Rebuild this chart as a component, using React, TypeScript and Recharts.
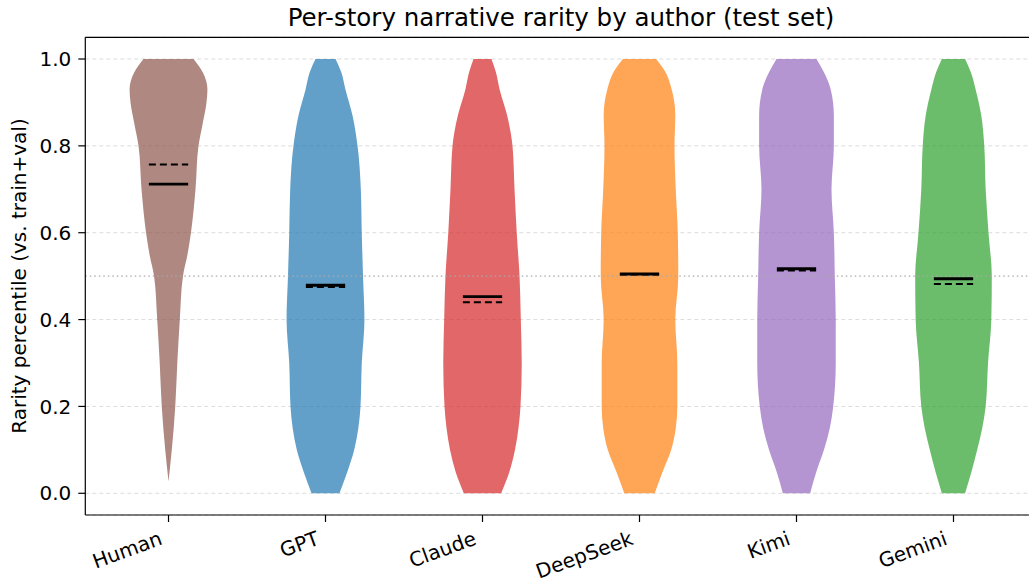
import { ComposedChart, Area, XAxis, YAxis, CartesianGrid, ReferenceLine } from 'recharts'

const AUTHORS = ['Human', 'GPT', 'Claude', 'DeepSeek', 'Kimi', 'Gemini']
const COLORS = ['#8c564b', '#1f77b4', '#d62728', '#ff7f0e', '#9467bd', '#2ca02c']

// KDE outline: rarity level -> half-width (x units)
const HUMAN_LEVELS = [0.027, 0.1, 0.2, 0.3, 0.4, 0.5, 0.55, 0.6, 0.7, 0.8, 0.85, 0.9, 0.93, 0.97, 1.0]
const HUMAN_HALF = [0, 0.021, 0.043, 0.056, 0.072, 0.092, 0.121, 0.143, 0.172, 0.191, 0.217, 0.242, 0.248, 0.217, 0.159]

const MODEL_LEVELS = [0, 0.05, 0.1, 0.15, 0.2, 0.3, 0.4, 0.5, 0.6, 0.7, 0.8, 0.87, 0.93, 0.97, 1.0]
const GPT_HALF = [0.089, 0.14, 0.183, 0.209, 0.223, 0.231, 0.248, 0.239, 0.231, 0.225, 0.204, 0.172, 0.127, 0.1, 0.064]
const CLAUDE_HALF = [0.119, 0.172, 0.207, 0.229, 0.242, 0.25, 0.244, 0.236, 0.218, 0.204, 0.191, 0.157, 0.109, 0.085, 0.057]
const DEEPSEEK_HALF = [0.097, 0.148, 0.202, 0.231, 0.241, 0.241, 0.228, 0.247, 0.244, 0.231, 0.223, 0.228, 0.205, 0.165, 0.106]
const KIMI_HALF = [0.087, 0.127, 0.175, 0.212, 0.234, 0.25, 0.25, 0.244, 0.238, 0.223, 0.238, 0.238, 0.218, 0.174, 0.127]
const GEMINI_HALF = [0.074, 0.115, 0.151, 0.183, 0.205, 0.22, 0.241, 0.244, 0.223, 0.205, 0.196, 0.177, 0.141, 0.11, 0.074]

const MEDIANS = [0.712, 0.479, 0.453, 0.505, 0.517, 0.494]
const MEANS = [0.757, 0.475, 0.44, 0.504, 0.513, 0.482]

const Y_TICKS = [0, 0.2, 0.4, 0.6, 0.8, 1.0]
const X_TICKS = [0, 1, 2, 3, 4, 5]
const Y_MIN = -0.05
const Y_MAX = 1.05
const BAR_HALF = 0.125

const FONT = '"DejaVu Sans", sans-serif'
const TICK_FONT = 20

const violin = (center: number, levels: number[], half: number[]) =>
  levels.map((y, i) => ({ y, range: [center - half[i], center + half[i]] }))

const violins = [
  violin(0, HUMAN_LEVELS, HUMAN_HALF),
  violin(1, MODEL_LEVELS, GPT_HALF),
  violin(2, MODEL_LEVELS, CLAUDE_HALF),
  violin(3, MODEL_LEVELS, DEEPSEEK_HALF),
  violin(4, MODEL_LEVELS, KIMI_HALF),
  violin(5, MODEL_LEVELS, GEMINI_HALF),
]

function AuthorTick({ x, y, payload }: any) {
  const ax = x - 5
  const ay = y + 20
  return (
    <text
      x={ax}
      y={ay}
      textAnchor="end"
      transform={`rotate(-20 ${ax} ${ay})`}
      fontSize={TICK_FONT}
      fontFamily={FONT}
      fill="#000"
    >
      {AUTHORS[payload.value]}
    </text>
  )
}

export default function App() {
  return (
    <div
      style={{
        position: 'absolute',
        left: 0,
        top: 0,
        width: 1029,
        height: 583,
        overflow: 'hidden',
        background: '#fff',
      }}
    >
      <ComposedChart
        layout="vertical"
        width={1040}
        height={583}
        margin={{ top: 37.3, right: 3.3, left: 25.3, bottom: 18 }}
      >
        <CartesianGrid vertical={false} stroke="#dcdcdc" strokeDasharray="4 3" />
        <XAxis
          type="number"
          domain={[-0.53, 5.53]}
          ticks={X_TICKS}
          allowDataOverflow
          height={50}
          tickSize={7}
          tickLine={{ stroke: '#000', strokeWidth: 1.2 }}
          axisLine={{ stroke: '#000', strokeWidth: 1.2 }}
          tick={<AuthorTick />}
        />
        <YAxis
          type="number"
          dataKey="y"
          reversed
          domain={[Y_MIN, Y_MAX]}
          ticks={Y_TICKS}
          allowDataOverflow
          width={60}
          tickSize={7}
          tickMargin={7}
          tickFormatter={(v: number) => v.toFixed(1)}
          tickLine={{ stroke: '#000', strokeWidth: 1.2 }}
          axisLine={{ stroke: '#000', strokeWidth: 1.2 }}
          tick={{ fontSize: TICK_FONT, fontFamily: FONT, fill: '#000' }}
        />
        <ReferenceLine y={0.5} stroke="#aaaaaa" strokeWidth={1.3} strokeDasharray="1.5 3" />
        {violins.map((rows, i) => (
          <Area
            key={AUTHORS[i]}
            data={rows}
            dataKey="range"
            type="monotone"
            fill={COLORS[i]}
            fillOpacity={0.7}
            stroke="none"
            isAnimationActive={false}
            dot={false}
            activeDot={false}
          />
        ))}
        {MEANS.map((m, i) => (
          <ReferenceLine
            key={`mean-${i}`}
            segment={[
              { x: i - BAR_HALF, y: m },
              { x: i + BAR_HALF, y: m },
            ]}
            stroke="#000"
            strokeWidth={2}
            strokeDasharray="7 4"
          />
        ))}
        {MEDIANS.map((m, i) => (
          <ReferenceLine
            key={`median-${i}`}
            segment={[
              { x: i - BAR_HALF, y: m },
              { x: i + BAR_HALF, y: m },
            ]}
            stroke="#000"
            strokeWidth={2.8}
          />
        ))}
        <ReferenceLine y={Y_MAX} stroke="#000" strokeWidth={1.2} />
      </ComposedChart>
      <svg
        width={1029}
        height={583}
        style={{ position: 'absolute', left: 0, top: 0, pointerEvents: 'none' }}
      >
        <text x={561} y={26} textAnchor="middle" fontSize={24.5} fontFamily={FONT} fill="#000">
          Per-story narrative rarity by author (test set)
        </text>
        <text
          x={26}
          y={276}
          textAnchor="middle"
          transform="rotate(-90 26 276)"
          fontSize={TICK_FONT}
          fontFamily={FONT}
          fill="#000"
        >
          Rarity percentile (vs. train+val)
        </text>
      </svg>
    </div>
  )
}
